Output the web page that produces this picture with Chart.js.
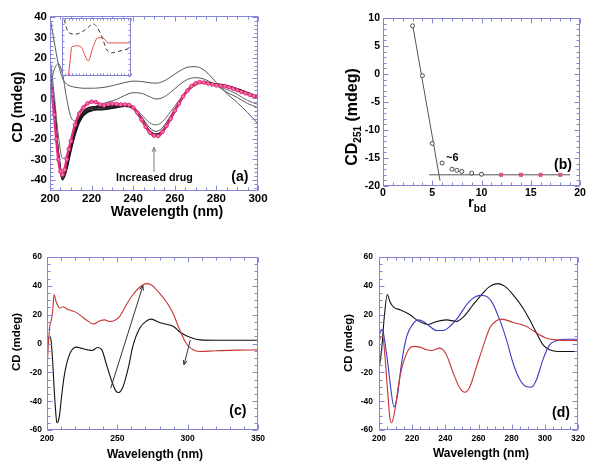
<!DOCTYPE html>
<html><head><meta charset="utf-8">
<script src="https://cdn.jsdelivr.net/npm/chart.js@4/dist/chart.umd.min.js"></script>
<style>
html,body{margin:0;padding:0;background:#fff;}
#wrap{position:relative;width:600px;height:470px;overflow:hidden;background:#fff}
canvas{position:absolute;left:0;top:0}
</style></head><body>
<div id="wrap">
<canvas id="ca" width="600" height="470"></canvas>
<canvas id="cins" width="600" height="470"></canvas>
<canvas id="cb" width="600" height="470"></canvas>
<canvas id="cc" width="600" height="470"></canvas>
<canvas id="cd" width="600" height="470"></canvas>
</div>
<script>
// ---------------- DATA ----------------
// Panel (a): CD spectra with increasing drug
const A_WL = [200,202,204,206,208,210,212,214,216,218,220,224,228,232,236,240,244,248,251,254,258,262,266,270,274,278,282,286,290,295,300];
const A_C1 = [40,28,17,10,7,6,5.5,5.2,5,5,5,5.2,5.8,6.8,7.8,8.5,8.3,7.7,7.5,8.2,10.5,13.3,15.3,15.6,14,10,5.5,1.5,-2,-7,-12.5];
const A_C2 = [5,14,17,12,0,-9,-11,-10.5,-8.5,-6.5,-5,-3,-1.8,-0.5,1.5,2.8,2.5,0.8,-0.3,0.3,3,6.5,9.3,10.2,9.5,7.5,5,2.5,0.5,-2.5,-4.5];
const A_C3 = [20,2,-18,-29.5,-28,-22,-15,-10.5,-7.5,-6,-5.2,-4.5,-4.5,-4,-3.5,-4.3,-8,-12,-13,-11.5,-6.5,-1,4,7,7.8,7,5.5,4,2,-1,-3];
const A_C4 = [15,-3,-25,-37,-33,-25,-17,-11,-8,-6.5,-5.8,-5.2,-5,-4.3,-3.6,-4.5,-9,-14.5,-16.2,-14.5,-8.5,-2,3.5,7,8,7.3,6.5,5.5,4,2,0];
const A_B1 = [12,-6,-29,-40,-35,-26,-18,-12,-8.5,-6.8,-6,-5.5,-5.2,-4.5,-3.8,-5,-10.5,-16.5,-18,-16.5,-10,-2.5,3.5,7,7.8,7.2,6.7,6,4.5,2.5,0.5];
const A_B2 = [11,-5,-28,-39,-34,-25,-17,-11,-7.5,-5.8,-5,-4.6,-4.3,-3.8,-3.3,-4.5,-10,-16,-17.5,-16,-9.5,-2,4,7.3,8,7.4,6.8,6,4.8,2.8,0.8];
const A_B3 = [11,-4,-27,-38.5,-33,-24,-16,-10,-6.5,-4.8,-4.2,-4,-3.8,-3.5,-3.2,-4.3,-10,-16.5,-18,-16.5,-10,-2.5,3.5,7,7.8,7.2,6.5,5.8,4.3,2.2,0.3];
const A_PINK_WL = [200,201,202,203,204,205,206,207,208,209,210,212,214,216,218,220,222,224,226,228,230,232,234,236,238,240,242,244,246,248,250,252,254,256,258,260,262,264,266,268,270,272,274,276,278,280,282,284,286,288,290,292,294,296,298,300];
const A_PINK = [10.5,2,-8,-20,-30,-36,-37.5,-35,-30,-25,-21,-13,-7.5,-4.5,-2.5,-1.6,-1.8,-3,-3.4,-2.8,-2.6,-2.8,-3,-3,-3.2,-4.5,-7,-10.5,-14,-16.8,-18.3,-18.5,-16.5,-13.5,-10,-6,-2.5,1,3.8,6,7.4,8,7.8,7.3,6.8,6.4,6.2,6,5.5,4.8,4,3.2,2.5,1.8,1.2,0.8];
const A_X_TICKS = [200,220,240,260,280,300];
const A_Y_TICKS = [-40,-30,-20,-10,0,10,20,30,40];

// Inset of (a) (arbitrary units)
const INS_DASH_X = [3,9,19,29,38,45,51,58,65,72,84,99];
const INS_DASH_Y = [97,76,72,76,84,90,84,67,45,40,43,48];
const INS_RED_X = [9,12,14,22,29,33,38,45,52,59,67,77,99];
const INS_RED_Y = [0,28,50,52,48,36,26,50,66,66,57,57,57];

// Panel (b): CD at 251 nm vs r_bd
const B_R = [3,4,5,6,7,7.5,8,9,10];
const B_CD = [8.6,-0.3,-12.4,-15.9,-17,-17.2,-17.4,-17.7,-17.9];
const B_R_RED = [12,14,16,18];
const B_CD_RED = [-18,-18,-18,-18];
const B_FIT1_X = [3.01,5.79];
const B_FIT1_Y = [8.75,-19.05];
const B_FIT2_X = [4.7,19];
const B_FIT2_Y = [-18,-18];
const B_X_TICKS = [0,5,10,15,20];
const B_Y_TICKS = [-20,-15,-10,-5,0,5,10];

// Panel (c)
const C_BLACK_WL = [200,201,202,203,204,205,206,207,208,209,210,212,214,217,221,224,229,232,236,239,242,246,249,251,254,258,261,266,271,274,280,285,290,294,299,304,309,320,335,350];
const C_BLACK = [1,4,5,1,-12,-30,-45,-55,-54,-49,-40,-24,-14,-5.6,-2.5,-3.2,-4.4,-4.9,-2.8,-4.4,-13.7,-26,-33,-34,-30,-16,-2,10.7,15.8,16.9,14.6,13.4,11.8,8.3,5.3,3.5,2.5,2.3,2.3,2.3];
const C_RED_WL = [200,201,202,203,204,205,206.5,209,211.5,214,217.6,221,225,228,233,237.7,241,244.5,248,251.7,256.4,261,265.9,270.6,274,279,284.8,289.6,294.3,299,303.8,308.5,320,335,350];
const C_RED = [-18,0,12,16,22,33.7,29,24.6,25.5,24,22.8,21.4,18.5,16.3,13.5,15.8,16.4,15.3,16,18.8,26.9,33.8,39,41.5,40.8,36,29,21,9.5,0,-4.4,-5.6,-5,-4.6,-4.4];
const C_X_TICKS = [200,250,300,350];
const C_Y_TICKS = [-60,-40,-20,0,20,40,60];

// Panel (d)
const D_BLACK_WL = [200,201.6,203,205,206.6,209,212.6,218.7,222.7,226.7,229.7,234.7,240.7,246.8,250.8,256.8,261.8,266.8,271.8,275.9,280.9,286.9,290.9,295,298.9,302.9,308,320];
const D_BLACK = [-18,-4,16,34,29,25,23.4,20,16.4,14,13.2,15.3,16.4,15.3,18.3,26.9,33.8,39.6,41.5,39.6,33.8,24.5,16.4,7.2,-1,-4.4,-5.6,-5.6];
const D_RED_WL = [200,200.6,202.2,203.6,205,206.6,207.6,209.6,212.6,216.7,220.7,224.7,228.7,231.7,236.7,240.7,244.8,248.8,251.8,254.8,258.8,262.8,266.8,270.8,273.9,280.9,289,295,301,307,320];
const D_RED = [0,3.7,5,-9,-30,-52,-55,-46,-23,-6.7,-2,-2.5,-4.4,-4.9,-3.2,-7.9,-20.6,-31,-33.8,-30,-16,-2,10.7,15.8,16.9,14.6,11.8,7.2,3.7,2.5,2];
const D_BLUE_WL = [200,201,202.2,203,205,207,209,211,213.6,216.7,220.7,223.7,226.7,230.7,234.7,238.7,242.7,247.8,252.8,256.8,260.8,263.8,267.8,272.8,276.9,280.9,284.9,289,291.9,295,298.9,302.9,307,313,320];
const D_BLUE = [5,8.3,9.5,5,-11,-30,-44,-37,-13.7,4.9,14,16.4,15.3,11.8,9,9,11.8,18.3,26.9,31.5,33.4,33.1,29.2,16.4,2.5,-13.7,-25,-30,-30.3,-25,-11,-1,2,3,3];
const D_X_TICKS = [200,220,240,260,280,300,320];
const D_Y_TICKS = [-60,-40,-20,0,20,40,60];

// ---------------- HELPERS ----------------
const FONT = "'Liberation Sans', Arial, Helvetica, sans-serif";
const FRAME = '#8585d6';
Chart.defaults.font.family = FONT;
const pts = (xs, ys) => xs.map((x, i) => ({x: x, y: ys[i]}));
function line(xs, ys, color, width, extra) {
  return Object.assign({data: pts(xs, ys), borderColor: color, backgroundColor: color, borderWidth: width,
    pointRadius: 0, fill: false, cubicInterpolationMode: 'monotone'}, extra || {});
}
function framePlugin(p) {
  return {id: 'frame', afterDatasetsDraw(chart) {
    const ctx = chart.ctx, a = chart.chartArea, xs = chart.scales.x, ys = chart.scales.y;
    ctx.save();
    ctx.strokeStyle = FRAME; ctx.lineWidth = 1;
    const L = Math.round(a.left) + 0.5, R = Math.round(a.right) - 0.5, T = Math.round(a.top) + 0.5, B = Math.round(a.bottom) - 0.5;
    ctx.strokeRect(L, T, R - L, B - T);
    ctx.beginPath();
    const tx = (v, len) => { const px = Math.round(xs.getPixelForValue(v)) + 0.5; ctx.moveTo(px, B); ctx.lineTo(px, B - len); ctx.moveTo(px, T); ctx.lineTo(px, T + len); };
    const ty = (v, len) => { const py = Math.round(ys.getPixelForValue(v)) + 0.5; ctx.moveTo(L, py); ctx.lineTo(L + len, py); ctx.moveTo(R, py); ctx.lineTo(R - len, py); };
    const minors = (ax, major, fn) => {
      const n0 = Math.ceil(ax.min / ax.step - 1e-9), n1 = Math.floor(ax.max / ax.step + 1e-9);
      for (let n = n0; n <= n1; n++) { const v = n * ax.step; if (!major.some(m => Math.abs(m - v) < 1e-6)) fn(v, p.minLen); }
    };
    (p.x.major || []).forEach(v => tx(v, p.majLen));
    (p.y.major || []).forEach(v => ty(v, p.majLen));
    minors(p.x, p.x.major || [], tx);
    minors(p.y, p.y.major || [], ty);
    ctx.stroke();
    ctx.restore();
  }};
}
function whitePlugin() {
  return {id: 'white', beforeDatasetsDraw(chart) {
    const a = chart.chartArea, ctx = chart.ctx;
    ctx.save(); ctx.fillStyle = '#fff'; ctx.fillRect(a.left, a.top, a.right - a.left, a.bottom - a.top); ctx.restore();
  }};
}
function drawRich(ctx, it) {
  ctx.save();
  ctx.translate(it.px, it.py);
  if (it.rotate) ctx.rotate(-Math.PI / 2);
  let total = 0;
  it.segs.forEach(s => { ctx.font = s.f; total += ctx.measureText(s.t).width; });
  let x = -total / 2;
  ctx.fillStyle = '#000'; ctx.textAlign = 'left'; ctx.textBaseline = 'middle';
  it.segs.forEach(s => { ctx.font = s.f; ctx.fillText(s.t, x, s.dy || 0); x += ctx.measureText(s.t).width; });
  ctx.restore();
}
function annoPlugin(items) {
  return {id: 'anno', afterDraw(chart) {
    const ctx = chart.ctx, xs = chart.scales.x, ys = chart.scales.y;
    ctx.save();
    items.forEach(it => {
      if (it.type === 'text') {
        ctx.font = it.font; ctx.fillStyle = '#000'; ctx.textAlign = 'center'; ctx.textBaseline = 'middle';
        ctx.fillText(it.text, xs.getPixelForValue(it.x), ys.getPixelForValue(it.y));
      } else if (it.type === 'arrow') {
        const x1 = xs.getPixelForValue(it.x1), y1 = ys.getPixelForValue(it.y1);
        const x2 = xs.getPixelForValue(it.x2), y2 = ys.getPixelForValue(it.y2);
        ctx.strokeStyle = it.color; ctx.lineWidth = 1;
        ctx.beginPath(); ctx.moveTo(x1, y1); ctx.lineTo(x2, y2);
        const ang = Math.atan2(y2 - y1, x2 - x1), hl = it.head || 6;
        ctx.moveTo(x2, y2); ctx.lineTo(x2 - hl * Math.cos(ang - 0.4), y2 - hl * Math.sin(ang - 0.4));
        ctx.moveTo(x2, y2); ctx.lineTo(x2 - hl * Math.cos(ang + 0.4), y2 - hl * Math.sin(ang + 0.4));
        ctx.stroke();
      } else if (it.type === 'title') {
        drawRich(ctx, it);
      }
    });
    ctx.restore();
  }};
}
function makeChart(id, p) {
  const ax = p.axes !== false;
  const W = ax ? 30 : 0, H = ax ? 20 : 0;
  const tickFont = {size: p.fs || 10, weight: 'bold', family: FONT};
  const plugins = [];
  if (p.white) plugins.push(whitePlugin());
  plugins.push(framePlugin(p));
  plugins.push(annoPlugin(p.anno || []));
  // draw datasets in listed order (later ones on top)
  const n = p.datasets.length;
  p.datasets.forEach((d, i) => { d.order = n - i; });
  return new Chart(document.getElementById(id), {
    type: 'line',
    data: {datasets: p.datasets},
    options: {
      responsive: false, animation: false, events: [],
      layout: {padding: {left: p.area.l - W, top: p.area.t, right: 600 - p.area.r, bottom: 470 - p.area.b - H}},
      plugins: {legend: {display: false}, tooltip: {enabled: false}, title: {display: false}},
      scales: {
        x: {type: 'linear', min: p.x.min, max: p.x.max, bounds: 'data', display: ax,
          grid: {display: false, drawTicks: false}, border: {display: false},
          ticks: {font: tickFont, color: '#000', padding: p.xpad || 2, autoSkip: false, maxRotation: 0},
          afterBuildTicks: s => { s.ticks = (p.x.major || []).map(v => ({value: v})); },
          afterFit: s => { s.height = H; }},
        y: {type: 'linear', min: p.y.min, max: p.y.max, bounds: 'data', display: ax,
          grid: {display: false, drawTicks: false}, border: {display: false},
          ticks: {font: tickFont, color: '#000', padding: p.ypad || 3, autoSkip: false},
          afterBuildTicks: s => { s.ticks = (p.y.major || []).map(v => ({value: v})); },
          afterFit: s => { s.width = W; }}
      }
    },
    plugins: plugins
  });
}

// ---------------- PANEL (a) ----------------
const PINK = '#e6287a';
makeChart('ca', {
  area: {l: 50, t: 16, r: 258, b: 191}, fs: 11.5, xpad: 1, ypad: 3, majLen: 5, minLen: 3,
  x: {min: 200, max: 300, major: A_X_TICKS, step: 5},
  y: {min: -45.5, max: 40.5, major: A_Y_TICKS, step: 2},
  datasets: [
    line(A_WL, A_C1, '#555', 1),
    line(A_WL, A_C2, '#555', 1),
    line(A_WL, A_C3, '#666', 1),
    line(A_WL, A_C4, '#444', 1),
    line(A_WL, A_B1, '#111', 1.6),
    line(A_WL, A_B2, '#222', 1.6),
    line(A_WL, A_B3, '#111', 1.6),
    line(A_PINK_WL, A_PINK, PINK, 2.5, {pointRadius: 1.8, pointBorderWidth: 1, pointBorderColor: PINK, pointBackgroundColor: '#f07aa8'})
  ],
  anno: [
    {type: 'arrow', x1: 250, y1: -36, x2: 250, y2: -24, color: '#777', head: 5},
    {type: 'text', x: 250.2, y: -39.1, text: 'Increased drug', font: 'bold 10.7px ' + FONT},
    {type: 'text', x: 291.3, y: -38.8, text: '(a)', font: 'bold 14px ' + FONT},
    {type: 'title', px: 18, py: 107, rotate: true, segs: [{t: 'CD (mdeg)', f: 'bold 14px ' + FONT}]},
    {type: 'title', px: 167, py: 212, segs: [{t: 'Wavelength (nm)', f: 'bold 14px ' + FONT}]}
  ]
});

// Inset
makeChart('cins', {
  area: {l: 62, t: 18, r: 131, b: 76}, axes: false, white: true, majLen: 0, minLen: 2,
  x: {min: 0, max: 100, major: [], step: 5},
  y: {min: 0, max: 100, major: [], step: 10},
  datasets: [
    line(INS_DASH_X, INS_DASH_Y, '#333', 1, {borderDash: [4, 3]}),
    line(INS_RED_X, INS_RED_Y, '#e24a4a', 1)
  ]
});

// ---------------- PANEL (b) ----------------
makeChart('cb', {
  area: {l: 383, t: 18, r: 580, b: 186}, fs: 10.5, xpad: 1, ypad: 3, majLen: 5, minLen: 3,
  x: {min: 0, max: 20, major: B_X_TICKS, step: 1},
  y: {min: -20, max: 10, major: B_Y_TICKS, step: 1},
  datasets: [
    line(B_FIT1_X, B_FIT1_Y, '#555', 1, {cubicInterpolationMode: 'default', tension: 0}),
    line(B_FIT2_X, B_FIT2_Y, '#555', 1, {cubicInterpolationMode: 'default', tension: 0}),
    {data: pts(B_R, B_CD), showLine: false, pointRadius: 2, pointBorderWidth: 0.8, pointBorderColor: '#222', pointBackgroundColor: '#fff'},
    {data: pts(B_R_RED, B_CD_RED), showLine: false, pointStyle: 'rect', pointRadius: 2.2, pointBorderWidth: 0.8, pointBorderColor: '#c84060', pointBackgroundColor: '#e86080'}
  ],
  anno: [
    {type: 'text', x: 7.04, y: -15.05, text: '~6', font: 'bold 11px ' + FONT},
    {type: 'text', x: 18.27, y: -16.25, text: '(b)', font: 'bold 14px ' + FONT},
    {type: 'title', px: 353, py: 117, rotate: true, segs: [{t: 'CD', f: 'bold 16px ' + FONT}, {t: '251', f: 'bold 10px ' + FONT, dy: 5}, {t: ' (mdeg)', f: 'bold 16px ' + FONT}]},
    {type: 'title', px: 477, py: 203, segs: [{t: 'r', f: 'bold 15px ' + FONT}, {t: 'bd', f: 'bold 10px ' + FONT, dy: 6}]}
  ]
});

// ---------------- PANEL (c) ----------------
const RED = '#c83434';
makeChart('cc', {
  area: {l: 47, t: 257, r: 258, b: 430}, fs: 8.5, xpad: 4, ypad: 5, majLen: 5, minLen: 3,
  x: {min: 200, max: 350, major: C_X_TICKS, step: 10},
  y: {min: -60, max: 60, major: C_Y_TICKS, step: 5},
  datasets: [
    line(C_BLACK_WL, C_BLACK, '#111', 1.1),
    line(C_RED_WL, C_RED, RED, 1.1)
  ],
  anno: [
    {type: 'arrow', x1: 245.3, y1: -31, x2: 268.2, y2: 40.1, color: '#333', head: 5},
    {type: 'arrow', x1: 301.9, y1: 2.5, x2: 297.4, y2: -14.8, color: '#333', head: 5},
    {type: 'text', x: 335.7, y: -47.2, text: '(c)', font: 'bold 14px ' + FONT},
    {type: 'title', px: 17, py: 342, rotate: true, segs: [{t: 'CD (mdeg)', f: 'bold 11.5px ' + FONT}]},
    {type: 'title', px: 155, py: 455, segs: [{t: 'Wavelength (nm)', f: 'bold 12px ' + FONT}]}
  ]
});

// ---------------- PANEL (d) ----------------
makeChart('cd', {
  area: {l: 379, t: 257, r: 578, b: 430}, fs: 8.5, xpad: 4, ypad: 6, majLen: 5, minLen: 3,
  x: {min: 200, max: 320, major: D_X_TICKS, step: 5},
  y: {min: -60, max: 60, major: D_Y_TICKS, step: 5},
  datasets: [
    line(D_BLACK_WL, D_BLACK, '#111', 1.1),
    line(D_BLUE_WL, D_BLUE, '#3a3ac4', 1.1),
    line(D_RED_WL, D_RED, RED, 1.1)
  ],
  anno: [
    {type: 'text', x: 309.7, y: -48.3, text: '(d)', font: 'bold 14px ' + FONT},
    {type: 'title', px: 349, py: 343, rotate: true, segs: [{t: 'CD (mdeg)', f: 'bold 11.5px ' + FONT}]},
    {type: 'title', px: 481, py: 454, segs: [{t: 'Wavelength (nm)', f: 'bold 12px ' + FONT}]}
  ]
});
</script>
</body></html>
